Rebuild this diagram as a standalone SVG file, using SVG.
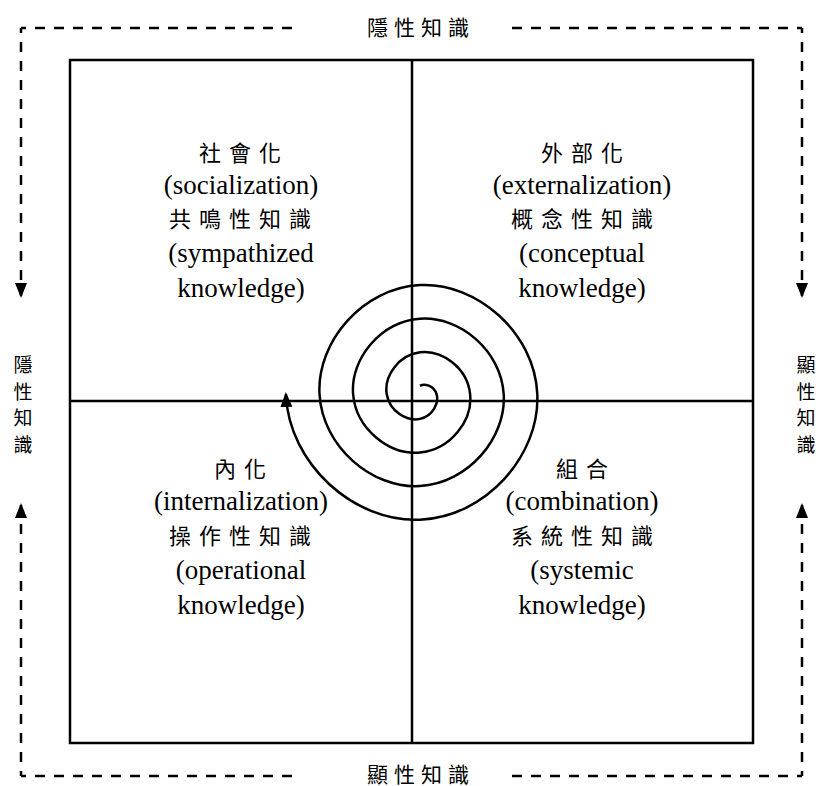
<svg xmlns="http://www.w3.org/2000/svg" width="820" height="786" viewBox="0 0 820 786">
<style>
.ln{stroke:#000;stroke-width:2.5;fill:none}
.ds{stroke:#000;stroke-width:2.5;fill:none;stroke-dasharray:10 9;stroke-dashoffset:5}
text{font-family:"Liberation Serif","Times New Roman","DejaVu Serif","Noto Sans CJK TC",serif;fill:#000;text-anchor:middle}
.t{font-size:27px}
.c{font-size:22px;letter-spacing:8px}
.s{font-size:19px}
.h{font-size:21px;letter-spacing:6px}
</style>
<defs>
<marker id="ah" markerUnits="userSpaceOnUse" markerWidth="17" markerHeight="13" refX="13" refY="6" orient="auto">
<path d="M0,0 L15,6 L0,12 z" fill="#000"/>
</marker>
</defs>
<rect width="820" height="786" fill="#fff"/>
<g id="frame">
<rect class="ln" x="70" y="60" width="683" height="683"/>
<line class="ln" x1="412" y1="60" x2="412" y2="743"/>
<line class="ln" x1="70" y1="401" x2="753" y2="401"/>
</g>
<g id="connectors">
<path class="ds" d="M21,28 L300,28"/>
<path class="ds" d="M802,28 L510,28"/>
<path class="ds" d="M21,776 L300,776"/>
<path class="ds" d="M802,776 L510,776"/>
<path class="ds" d="M21,28 L21,296" marker-end="url(#ah)"/>
<path class="ds" d="M802,28 L802,296" marker-end="url(#ah)"/>
<path class="ds" d="M21,776 L21,505" marker-end="url(#ah)"/>
<path class="ds" d="M802,776 L802,505" marker-end="url(#ah)"/>
<path id="spiral" class="ln" marker-end="url(#ah)" d="M420,385.9 C424.24,383.1 433.7,385.36 436.5,394 C439.3,402.64 433.04,416.1 420,418.9 C406.96,421.7 389.5,411.44 386.7,394 C383.9,376.56 398.17,355.1 420,352.3 C441.83,349.5 467.3,367.77 470.1,394 C472.9,420.23 450.63,449.7 420,452.5 C389.37,455.3 355.9,429.03 353.1,394 C350.3,358.97 380.57,321.5 420,318.7 C459.43,315.9 500.9,350.17 503.7,394 C506.5,437.83 468.22,483.3 420,486.1 C371.78,488.9 322.3,446.62 319.5,394 C316.7,341.38 362.98,287.9 420,285.1 C477.02,282.3 534.5,332.58 537.3,394 C540.1,455.42 485.82,516.9 420,519.7 C354.18,522.5 288.7,464.22 285.9,394"/>
</g>
<g id="label-top"><text class="h" x="421" y="35">隱性知識</text></g>
<g id="label-bottom"><text class="h" x="421" y="782">顯性知識</text></g>
<g id="label-left">
<text class="s" x="23" y="372">隱</text>
<text class="s" x="23" y="399">性</text>
<text class="s" x="23" y="425">知</text>
<text class="s" x="23" y="452">識</text>
</g>
<g id="label-right">
<text class="s" x="806" y="372">顯</text>
<text class="s" x="806" y="399">性</text>
<text class="s" x="806" y="425">知</text>
<text class="s" x="806" y="452">識</text>
</g>
<g id="q-socialization">
<text class="c" x="244" y="161">社會化</text>
<text class="t" x="241" y="194">(socialization)</text>
<text class="c" x="244" y="227">共鳴性知識</text>
<text class="t" x="241" y="262">(sympathized</text>
<text class="t" x="241" y="297">knowledge)</text>
</g>
<g id="q-externalization">
<text class="c" x="586" y="161">外部化</text>
<text class="t" x="582" y="194">(externalization)</text>
<text class="c" x="586" y="227">概念性知識</text>
<text class="t" x="582" y="262">(conceptual</text>
<text class="t" x="582" y="297">knowledge)</text>
</g>
<g id="q-internalization">
<text class="c" x="244" y="477">內化</text>
<text class="t" x="241" y="510">(internalization)</text>
<text class="c" x="244" y="544">操作性知識</text>
<text class="t" x="241" y="579">(operational</text>
<text class="t" x="241" y="614">knowledge)</text>
</g>
<g id="q-combination">
<text class="c" x="586" y="477">組合</text>
<text class="t" x="582" y="510">(combination)</text>
<text class="c" x="586" y="544">系統性知識</text>
<text class="t" x="582" y="579">(systemic</text>
<text class="t" x="582" y="614">knowledge)</text>
</g>
</svg>
